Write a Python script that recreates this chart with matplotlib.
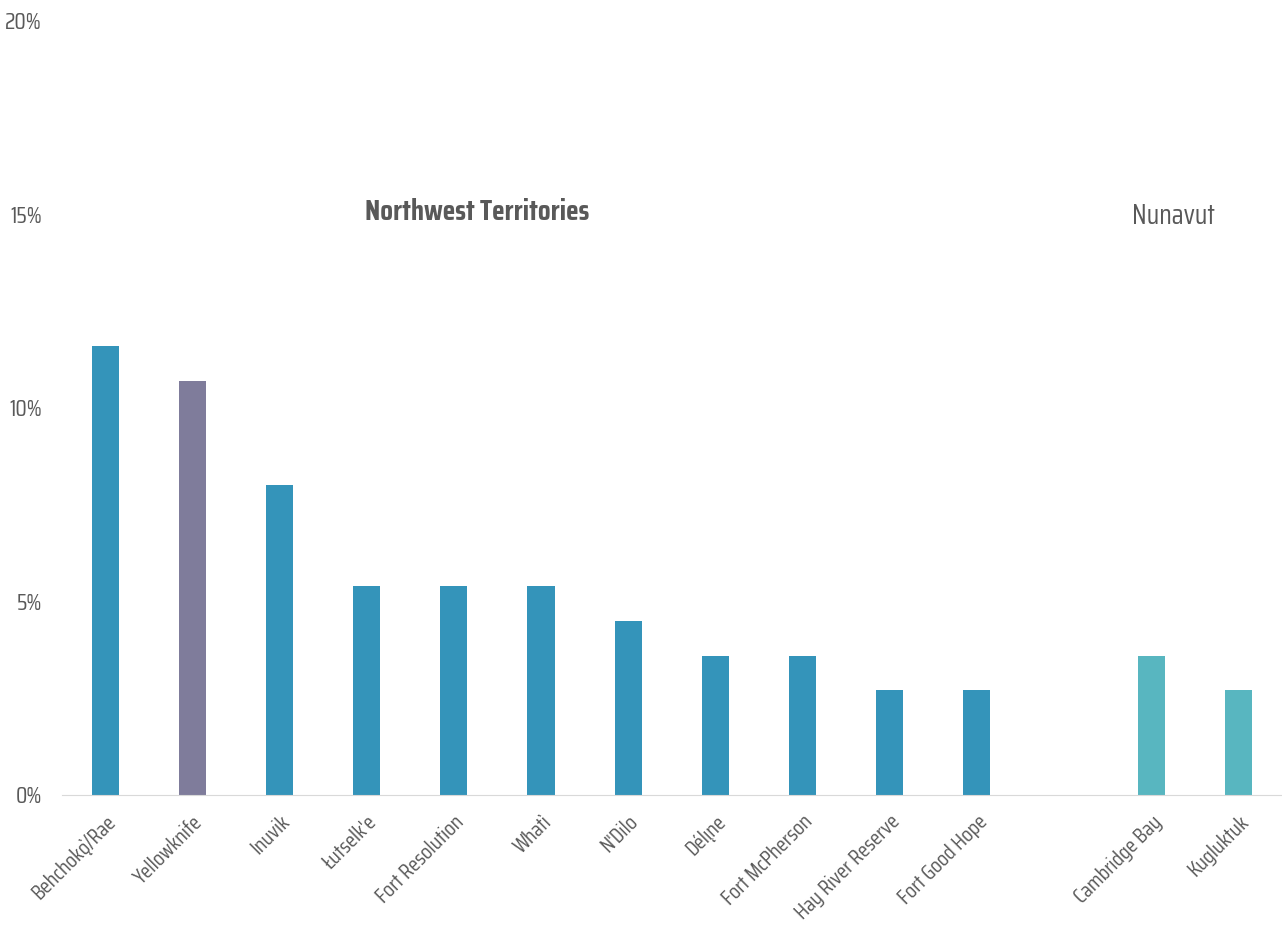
import matplotlib
matplotlib.use('Agg')
import matplotlib.pyplot as plt
from matplotlib import font_manager

# communities, with a blank slot separating the two territories
communities = ['Behchokǫ̀/Rae', 'Yellowknife', 'Inuvik', 'Łutselk\'e', 'Fort Resolution',
               'Whatì', 'N\'Dilo', 'Délı̨ne', 'Fort McPherson', 'Hay River Reserve',
               'Fort Good Hope', '', 'Cambridge Bay', 'Kugluktuk']
share = [11.6, 10.7, 8.0, 5.4, 5.4, 5.4, 4.5, 3.6, 3.6, 2.7, 2.7, 0.0, 3.6, 2.7]
bar_colors = ['#3494ba', '#7f7c9b', '#3494ba', '#3494ba', '#3494ba', '#3494ba', '#3494ba',
              '#3494ba', '#3494ba', '#3494ba', '#3494ba', '#3494ba', '#58b6c0', '#58b6c0']
yticks = [0, 5, 10, 15, 20]

names = {f.name for f in font_manager.fontManager.ttflist}
candidates = ['Saira Extra Condensed', 'Saira Condensed', 'Pathway Gothic One',
              'Antonio', 'Roboto Condensed', 'Oswald']
narrow = [c for c in candidates if c in names][:1]
plt.rcParams['font.family'] = narrow + ['DejaVu Sans']
text_gray = '#595959'


def main():
    fig = plt.figure(figsize=(12.82, 9.26), dpi=100)
    ax = fig.add_axes([0.048, 0.1415, 0.952, 0.8365])

    x = list(range(len(communities)))
    ax.bar(x, share, width=0.31, color=bar_colors)

    ax.set_xlim(-0.5, len(communities) - 0.5)
    ax.set_ylim(0, 20)
    ax.set_yticks(yticks)
    ax.set_yticklabels(['%d%%' % t for t in yticks], fontsize=17, color=text_gray)
    ax.set_xticks(x)
    ax.set_xticklabels(communities, rotation=45, ha='right', rotation_mode='anchor',
                       fontsize=15.5, color=text_gray)
    ax.tick_params(axis='x', length=0, pad=12)
    ax.tick_params(axis='y', length=0, pad=14)

    for s in ['top', 'right', 'left']:
        ax.spines[s].set_visible(False)
    ax.spines['bottom'].set_color('#d9d9d9')

    ax.text(4.27, 15.05, 'Northwest Territories', ha='center', va='center',
            fontsize=21, fontweight='bold', color=text_gray)
    ax.text(12.25, 14.95, 'Nunavut', ha='center', va='center',
            fontsize=20, color=text_gray)

    fig.savefig('out.png', dpi=100)


if __name__ == '__main__':
    main()
